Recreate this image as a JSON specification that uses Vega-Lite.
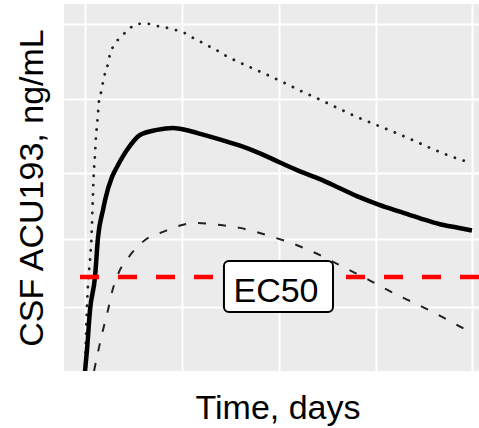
{
  "$schema": "https://vega.github.io/schema/vega-lite/v6.json",
  "width": 415,
  "height": 367,
  "autosize": "none",
  "padding": {"left": 64, "top": 4, "right": 0, "bottom": 57},
  "background": "white",
  "config": {
    "view": {"stroke": null, "fill": "#EBEBEB"},
    "font": "Liberation Sans",
    "axis": {
      "grid": true,
      "gridColor": "white",
      "gridWidth": 2,
      "labels": false,
      "ticks": false,
      "domain": false,
      "titleFont": "Liberation Sans",
      "titleFontSize": 34,
      "titleFontWeight": "normal",
      "titleColor": "black",
      "titleAlign": "center",
      "titleBaseline": "alphabetic"
    }
  },
  "datasets": {
    "conc": [
      {"series": "median", "day": 0, "conc": 0},
      {"series": "median", "day": 0.14, "conc": 5.7},
      {"series": "median", "day": 0.36, "conc": 16.6},
      {"series": "median", "day": 0.72, "conc": 25.6},
      {"series": "median", "day": 0.94, "conc": 36.5},
      {"series": "median", "day": 1.3, "conc": 43.9},
      {"series": "median", "day": 1.45, "conc": 46.6},
      {"series": "median", "day": 1.95, "conc": 52.9},
      {"series": "median", "day": 2.31, "conc": 55.6},
      {"series": "median", "day": 3.03, "conc": 60.2},
      {"series": "median", "day": 3.97, "conc": 64.3},
      {"series": "median", "day": 5.2, "conc": 65.7},
      {"series": "median", "day": 6.36, "conc": 66.2},
      {"series": "median", "day": 7.37, "conc": 65.6},
      {"series": "median", "day": 8.53, "conc": 64.4},
      {"series": "median", "day": 10.26, "conc": 62.5},
      {"series": "median", "day": 11.2, "conc": 61.4},
      {"series": "median", "day": 12.64, "conc": 59.3},
      {"series": "median", "day": 14.09, "conc": 56.8},
      {"series": "median", "day": 15.53, "conc": 54.4},
      {"series": "median", "day": 16.98, "conc": 52.3},
      {"series": "median", "day": 18.42, "conc": 49.8},
      {"series": "median", "day": 19.87, "conc": 47.3},
      {"series": "median", "day": 21.31, "conc": 45.2},
      {"series": "median", "day": 22.76, "conc": 43.4},
      {"series": "median", "day": 24.21, "conc": 41.6},
      {"series": "median", "day": 25.65, "conc": 40.0},
      {"series": "median", "day": 26.86, "conc": 39.1},
      {"series": "median", "day": 27.96, "conc": 38.3},

      {"series": "upper", "day": 0, "conc": 0},
      {"series": "upper", "day": 0.14, "conc": 17.4},
      {"series": "upper", "day": 0.22, "conc": 24.0},
      {"series": "upper", "day": 0.36, "conc": 30.2},
      {"series": "upper", "day": 0.48, "conc": 37.6},
      {"series": "upper", "day": 0.56, "conc": 46.6},
      {"series": "upper", "day": 0.63, "conc": 53.7},
      {"series": "upper", "day": 0.72, "conc": 58.9},
      {"series": "upper", "day": 0.79, "conc": 63.8},
      {"series": "upper", "day": 0.87, "conc": 67.0},
      {"series": "upper", "day": 0.94, "conc": 70.3},
      {"series": "upper", "day": 1.01, "conc": 73.6},
      {"series": "upper", "day": 1.16, "conc": 76.0},
      {"series": "upper", "day": 1.3, "conc": 78.7},
      {"series": "upper", "day": 1.45, "conc": 81.2},
      {"series": "upper", "day": 1.66, "conc": 83.7},
      {"series": "upper", "day": 1.81, "conc": 86.4},
      {"series": "upper", "day": 2.1, "conc": 88.8},
      {"series": "upper", "day": 2.67, "conc": 91.3},
      {"series": "upper", "day": 3.18, "conc": 93.2},
      {"series": "upper", "day": 3.83, "conc": 94.6},
      {"series": "upper", "day": 4.55, "conc": 94.6},
      {"series": "upper", "day": 5.06, "conc": 94.1},
      {"series": "upper", "day": 5.71, "conc": 93.7},
      {"series": "upper", "day": 6.36, "conc": 93.1},
      {"series": "upper", "day": 7.08, "conc": 92.3},
      {"series": "upper", "day": 7.73, "conc": 90.9},
      {"series": "upper", "day": 8.45, "conc": 89.5},
      {"series": "upper", "day": 9.1, "conc": 88.2},
      {"series": "upper", "day": 9.75, "conc": 86.9},
      {"series": "upper", "day": 10.26, "conc": 85.7},
      {"series": "upper", "day": 10.98, "conc": 84.4},
      {"series": "upper", "day": 11.63, "conc": 83.3},
      {"series": "upper", "day": 12.28, "conc": 82.2},
      {"series": "upper", "day": 12.93, "conc": 81.1},
      {"series": "upper", "day": 14.31, "conc": 78.7},
      {"series": "upper", "day": 15.66, "conc": 76.2},
      {"series": "upper", "day": 17.0, "conc": 73.9},
      {"series": "upper", "day": 18.35, "conc": 71.5},
      {"series": "upper", "day": 19.73, "conc": 69.1},
      {"series": "upper", "day": 21.08, "conc": 67.0},
      {"series": "upper", "day": 22.4, "conc": 65.0},
      {"series": "upper", "day": 23.63, "conc": 63.0},
      {"series": "upper", "day": 24.93, "conc": 60.8},
      {"series": "upper", "day": 26.3, "conc": 58.7},
      {"series": "upper", "day": 27.96, "conc": 56.6},

      {"series": "lower", "day": 0.65, "conc": 0},
      {"series": "lower", "day": 0.94, "conc": 5.2},
      {"series": "lower", "day": 1.3, "conc": 11.2},
      {"series": "lower", "day": 1.66, "conc": 16.6},
      {"series": "lower", "day": 1.95, "conc": 21.5},
      {"series": "lower", "day": 2.46, "conc": 27.0},
      {"series": "lower", "day": 3.11, "conc": 30.8},
      {"series": "lower", "day": 4.34, "conc": 35.7},
      {"series": "lower", "day": 5.64, "conc": 37.9},
      {"series": "lower", "day": 7.01, "conc": 39.8},
      {"series": "lower", "day": 8.16, "conc": 40.3},
      {"series": "lower", "day": 9.75, "conc": 39.8},
      {"series": "lower", "day": 11.2, "conc": 39.0},
      {"series": "lower", "day": 12.14, "conc": 38.1},
      {"series": "lower", "day": 13.58, "conc": 36.5},
      {"series": "lower", "day": 14.96, "conc": 34.8},
      {"series": "lower", "day": 16.26, "conc": 32.8},
      {"series": "lower", "day": 17.49, "conc": 30.6},
      {"series": "lower", "day": 18.93, "conc": 27.8},
      {"series": "lower", "day": 20.38, "conc": 25.1},
      {"series": "lower", "day": 21.53, "conc": 22.7},
      {"series": "lower", "day": 22.9, "conc": 20.1},
      {"series": "lower", "day": 24.21, "conc": 17.8},
      {"series": "lower", "day": 25.51, "conc": 15.3},
      {"series": "lower", "day": 26.95, "conc": 12.4},
      {"series": "lower", "day": 27.96, "conc": 10.4}
    ],
    "ec50": [{"label": "EC50", "conc": 25.6}]
  },
  "layer": [
    {
      "data": {"name": "conc"},
      "transform": [{"filter": "datum.series === 'upper'"}],
      "mark": {"type": "line", "color": "#222222", "strokeWidth": 2.8, "strokeDash": [0.1, 9.2], "strokeCap": "round", "interpolate": "monotone", "clip": true},
      "encoding": {
        "x": {
          "field": "day",
          "type": "quantitative",
          "scale": {"domain": [-1.52, 28.47], "nice": false, "zero": false},
          "axis": {"title": "Time, days", "values": [0, 7, 14, 21, 28], "titleX": 213.5, "titleY": 47}
        },
        "y": {
          "field": "conc",
          "type": "quantitative",
          "scale": {"domain": [0, 100], "nice": false},
          "axis": {
            "title": "CSF ACU193, ng/mL",
            "values": [17.4, 36.0, 54.0, 74.1, 94.6],
            "titleAngle": -90,
            "titleX": -22,
            "titleY": 183.5
          }
        }
      }
    },
    {
      "data": {"name": "conc"},
      "transform": [{"filter": "datum.series === 'lower'"}],
      "mark": {"type": "line", "color": "#222222", "strokeWidth": 2, "strokeDash": [8, 12], "interpolate": "monotone", "clip": true},
      "encoding": {
        "x": {"field": "day", "type": "quantitative"},
        "y": {"field": "conc", "type": "quantitative"}
      }
    },
    {
      "data": {"name": "conc"},
      "transform": [{"filter": "datum.series === 'median'"}],
      "mark": {"type": "line", "color": "black", "strokeWidth": 4.5, "interpolate": "monotone", "clip": true},
      "encoding": {
        "x": {"field": "day", "type": "quantitative"},
        "y": {"field": "conc", "type": "quantitative"}
      }
    },
    {
      "data": {"name": "ec50"},
      "mark": {"type": "rule", "color": "#FF0000", "strokeWidth": 4.5, "strokeDash": [19, 19]},
      "encoding": {"y": {"field": "conc", "type": "quantitative"}}
    },
    {
      "data": {"name": "ec50"},
      "mark": {"type": "rect", "fill": "white", "stroke": "black", "strokeWidth": 2, "cornerRadius": 5},
      "encoding": {
        "x": {"datum": 10.04, "type": "quantitative"},
        "x2": {"datum": 17.92},
        "y": {"datum": 29.97, "type": "quantitative"},
        "y2": {"datum": 16.08}
      }
    },
    {
      "data": {"name": "ec50"},
      "mark": {"type": "text", "fontSize": 34, "font": "Liberation Sans", "color": "black", "align": "center", "baseline": "alphabetic"},
      "encoding": {
        "x": {"datum": 13.8, "type": "quantitative"},
        "y": {"datum": 18.8, "type": "quantitative"},
        "text": {"field": "label"}
      }
    }
  ]
}
